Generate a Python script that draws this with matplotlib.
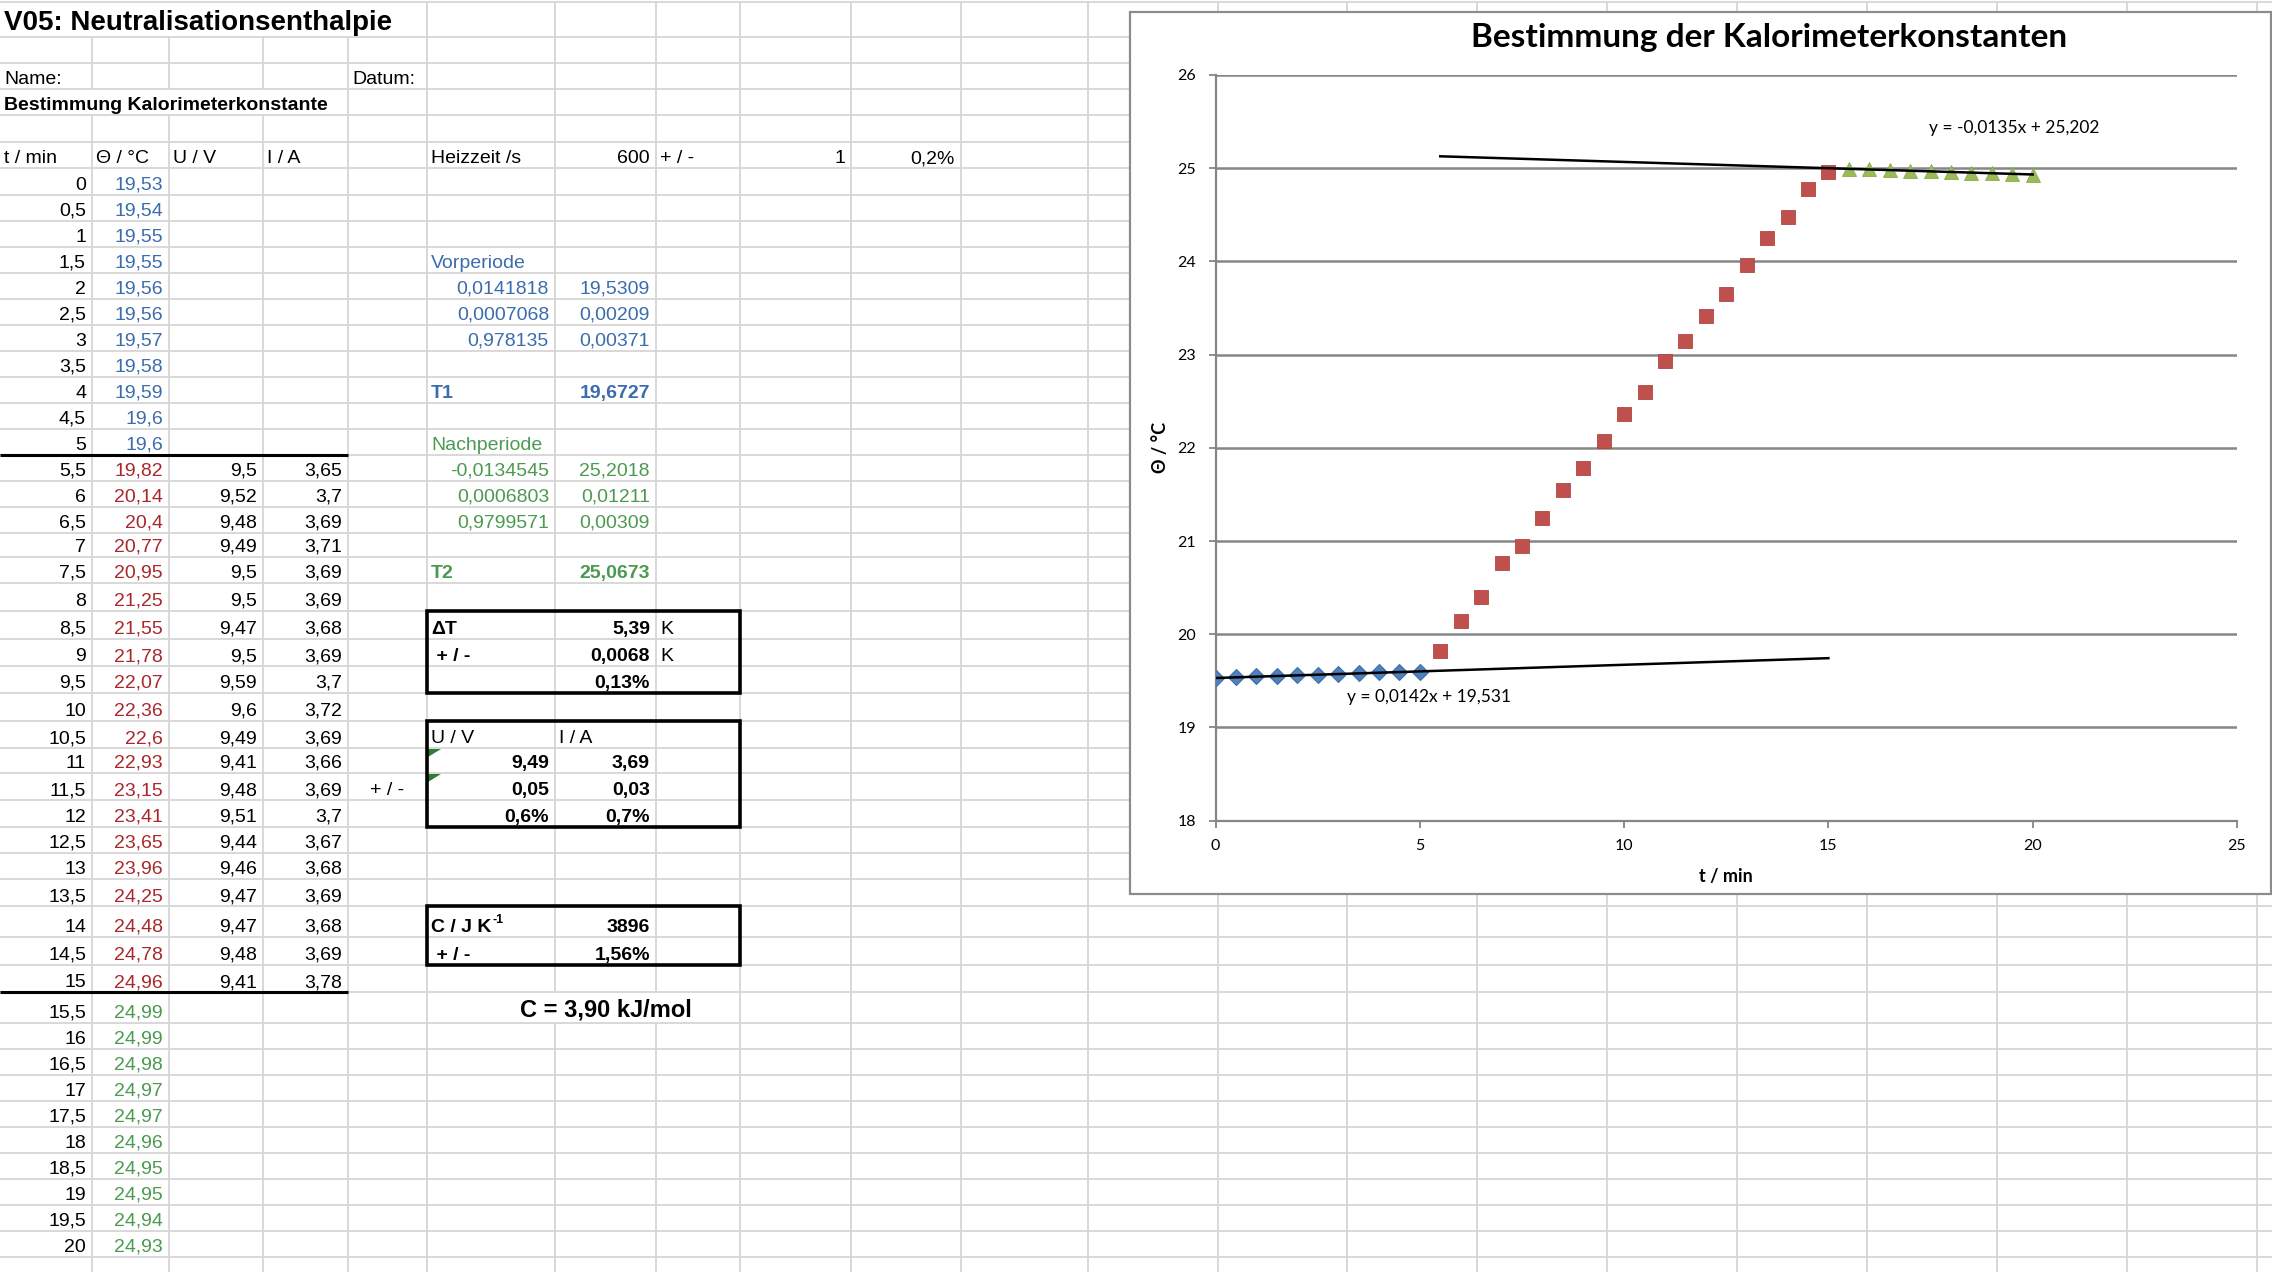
import numpy as np
import matplotlib.pyplot as plt
from matplotlib.patches import Rectangle, Polygon
from matplotlib.collections import LineCollection

plt.rcParams['font.family'] = ['Liberation Sans', 'DejaVu Sans']
CHART_FONT = ['Lato', 'DejaVu Sans']

# --- measured values -------------------------------------------------------
t_min = [0, 0.5, 1, 1.5, 2, 2.5, 3, 3.5, 4, 4.5, 5,
         5.5, 6, 6.5, 7, 7.5, 8, 8.5, 9, 9.5, 10,
         10.5, 11, 11.5, 12, 12.5, 13, 13.5, 14, 14.5, 15,
         15.5, 16, 16.5, 17, 17.5, 18, 18.5, 19, 19.5, 20]
theta = [19.53, 19.54, 19.55, 19.55, 19.56, 19.56, 19.57, 19.58, 19.59, 19.6, 19.6,
         19.82, 20.14, 20.4, 20.77, 20.95, 21.25, 21.55, 21.78, 22.07, 22.36,
         22.6, 22.93, 23.15, 23.41, 23.65, 23.96, 24.25, 24.48, 24.78, 24.96,
         24.99, 24.99, 24.98, 24.97, 24.97, 24.96, 24.95, 24.95, 24.94, 24.93]
# voltage / current during heating (t = 5.5 ... 15)
u_volt = [9.5, 9.52, 9.48, 9.49, 9.5, 9.5, 9.47, 9.5, 9.59, 9.6,
          9.49, 9.41, 9.48, 9.51, 9.44, 9.46, 9.47, 9.47, 9.48, 9.41]
i_amp = [3.65, 3.7, 3.69, 3.71, 3.69, 3.69, 3.68, 3.69, 3.7, 3.72,
         3.69, 3.66, 3.69, 3.7, 3.67, 3.68, 3.69, 3.68, 3.69, 3.78]
n_vor, n_nach = 11, 10
forecast = 10

# LINEST output as shown in the sheet
vor_stats = [("0,0141818", "19,5309"), ("0,0007068", "0,00209"), ("0,978135", "0,00371")]
nach_stats = [("-0,0134545", "25,2018"), ("0,0006803", "0,01211"), ("0,9799571", "0,00309")]
T1, T2 = "19,6727", "25,0673"
delta_T = [("ΔT", "5,39", "K"), (" + / -", "0,0068", "K"), ("", "0,13%", "")]
ui_mean = [("U / V", "I / A"), ("9,49", "3,69"), ("0,05", "0,03"), ("0,6%", "0,7%")]
cal_const = [("C / J K", "3896"), (" + / -", "1,56%")]
result = "C = 3,90 kJ/mol"

# --- sheet layout (pixels) -------------------------------------------------
W, H = 2272, 1272
row_edges = [2, 37, 63, 89, 115, 142, 168, 195, 221, 247, 273, 299, 325, 351, 377,
             403, 429, 455, 481, 507, 533, 557, 583, 611, 639, 666, 693, 721, 748,
             773, 800, 827, 853, 879, 906, 937, 965, 992, 1023, 1049, 1075, 1101,
             1127, 1153, 1179, 1205, 1231, 1257, 1283]
col_edges = [0, 92, 169, 263, 348, 427, 555, 656, 740, 851, 961, 1088, 1218,
             1347, 1477, 1607, 1737, 1867, 1997, 2127, 2257]
hidden = {(0, 1), (0, 2), (0, 3), (0, 4), (3, 1), (3, 2), (3, 3), (37, 6), (37, 7)}

blue_t, red_t, green_t = '#3b6cad', '#a8282c', '#4c9a50'
grid_c = '#d5d5d5'

fig = plt.figure(figsize=(W / 100, H / 100), dpi=100)
sheet = fig.add_axes([0, 0, 1, 1])
sheet.set_xlim(0, W)
sheet.set_ylim(H, 0)
sheet.axis('off')

segs = [[(0, y), (W, y)] for y in row_edges]
for ci in range(1, len(col_edges)):
    x = col_edges[ci]
    for r in range(len(row_edges) - 1):
        if (r, ci) not in hidden:
            segs.append([(x, row_edges[r]), (x, row_edges[r + 1])])
sheet.add_collection(LineCollection(segs, colors=grid_c, linewidths=1.3, zorder=1))


def de(v):
    return f"{v:g}".replace('.', ',')


def cell(r, c, s, ha='left', color='black', bold=False, size=14, dy=5):
    x0, x1 = col_edges[c], col_edges[c + 1]
    x = {'left': x0 + 4, 'right': x1 - 6, 'center': (x0 + x1) / 2}[ha]
    return sheet.text(x, row_edges[r + 1] - dy, s, ha=ha, va='baseline', color=color,
                      fontsize=size, fontweight='bold' if bold else 'normal', zorder=4)


cell(0, 0, "V05: Neutralisationsenthalpie", bold=True, size=20, dy=7)
cell(2, 0, "Name:")
cell(2, 4, "Datum:")
cell(3, 0, "Bestimmung Kalorimeterkonstante", bold=True)
for c, s in enumerate(["t / min", "Θ / °C", "U / V", "I / A"]):
    cell(5, c, s)
cell(5, 5, "Heizzeit /s")
cell(5, 6, "600", 'right')
cell(5, 7, "+ / -")
cell(5, 8, "1", 'right')
cell(5, 9, "0,2%", 'right')

first = 6
for i, (tv, th) in enumerate(zip(t_min, theta)):
    col = blue_t if i < n_vor else (green_t if i >= len(t_min) - n_nach else red_t)
    cell(first + i, 0, de(tv), 'right')
    cell(first + i, 1, de(th), 'right', color=col)
for j, (u, a) in enumerate(zip(u_volt, i_amp)):
    cell(first + n_vor + j, 2, de(u), 'right')
    cell(first + n_vor + j, 3, de(a), 'right')

cell(9, 5, "Vorperiode", color=blue_t)
for k, (a, b) in enumerate(vor_stats):
    cell(10 + k, 5, a, 'right', color=blue_t)
    cell(10 + k, 6, b, 'right', color=blue_t)
cell(14, 5, "T1", color=blue_t, bold=True)
cell(14, 6, T1, 'right', color=blue_t, bold=True)

cell(16, 5, "Nachperiode", color=green_t)
for k, (a, b) in enumerate(nach_stats):
    cell(17 + k, 5, a, 'right', color=green_t)
    cell(17 + k, 6, b, 'right', color=green_t)
cell(21, 5, "T2", color=green_t, bold=True)
cell(21, 6, T2, 'right', color=green_t, bold=True)

for k, (a, b, unit) in enumerate(delta_T):
    cell(23 + k, 5, a, bold=True)
    cell(23 + k, 6, b, 'right', bold=True)
    cell(23 + k, 7, unit)

cell(27, 5, ui_mean[0][0])
cell(27, 6, ui_mean[0][1])
for k, (a, b) in enumerate(ui_mean[1:]):
    cell(28 + k, 5, a, 'right', bold=True)
    cell(28 + k, 6, b, 'right', bold=True)
cell(29, 4, "+ / -", 'center')
for r in (28, 29):
    y0 = row_edges[r] + 1
    sheet.add_patch(Polygon([(428, y0), (441, y0), (428, y0 + 8)], closed=True,
                            color='#2f7d32', lw=0, zorder=3))

lab = cell(34, 5, cal_const[0][0], bold=True)
cell(34, 6, cal_const[0][1], 'right', bold=True)
cell(35, 5, cal_const[1][0], bold=True)
cell(35, 6, cal_const[1][1], 'right', bold=True)
renderer = fig.canvas.get_renderer()
bb = lab.get_window_extent(renderer).transformed(sheet.transData.inverted())
sheet.text(bb.x1 + 1, row_edges[34] + 8, "-1", fontsize=9, fontweight='bold',
           ha='left', va='top', zorder=4)

cell(37, 6, result, 'center', bold=True, size=17, dy=7)

for (x0, x1, y0, y1) in [(427, 740, 611, 693), (427, 740, 721, 827), (427, 740, 906, 965)]:
    sheet.add_patch(Rectangle((x0, y0), x1 - x0, y1 - y0, fill=False, ec='black',
                              lw=2.6, zorder=5))
for y in (455, 992):
    sheet.plot([0, 348], [y, y], color='black', lw=2.2, zorder=5, solid_capstyle='butt')

# --- embedded chart --------------------------------------------------------
sheet.add_patch(Rectangle((1130, 12), 1141, 882, fc='white', ec='#8c8c8c', lw=1.6, zorder=6))

px0, px1, py_top, py_bot = 1215.5, 2237, 75, 820.7
ax = fig.add_axes([px0 / W, 1 - py_bot / H, (px1 - px0) / W, (py_bot - py_top) / H])
ax.set_facecolor('none')
ax.set_zorder(10)

t = np.array(t_min)
th = np.array(theta)
heat = slice(n_vor, len(t) - n_nach)
ax.plot(t[:n_vor], th[:n_vor], 'D', ms=8.5, mfc='#4f81bd', mec='#3f6ea8', mew=0.8, zorder=3)
ax.plot(t[heat], th[heat], 's', ms=10.5, mfc='#c0504d', mec='#b04540', mew=0.6, zorder=3)
ax.plot(t[-n_nach:], th[-n_nach:], '^', ms=10.5, mfc='#9bbb59', mec='#8aab4a', mew=0.6, zorder=3)

vor = np.polyfit(t[:n_vor], th[:n_vor], 1)
nach = np.polyfit(t[-n_nach:], th[-n_nach:], 1)
xv = np.array([t[0], t[n_vor - 1] + forecast])
xn = np.array([t[-n_nach] - forecast, t[-1]])
ax.plot(xv, np.polyval(vor, xv), color='black', lw=1.8, zorder=4)
ax.plot(xn, np.polyval(nach, xn), color='black', lw=1.8, zorder=4)


def eq(p):
    return f"y = {p[0]:.4f}x + {p[1]:.3f}".replace('.', ',')


ax.text(19.54, 25.43, eq(nach), ha='center', va='center', fontsize=12.5,
        family=CHART_FONT, zorder=5)
ax.text(5.215, 19.33, eq(vor), ha='center', va='center', fontsize=12.5,
        family=CHART_FONT, zorder=5)

ax.set_xlim(0, 25)
ax.set_ylim(18, 26)
ax.set_xticks(range(0, 26, 5))
ax.set_yticks(range(18, 27))
ax.grid(axis='y', color='#868686', lw=1.8)
ax.set_axisbelow(True)
for side in ('top', 'right'):
    ax.spines[side].set_visible(False)
for side in ('left', 'bottom'):
    ax.spines[side].set_color('#868686')
    ax.spines[side].set_linewidth(1.6)
ax.tick_params(direction='out', length=5, width=1.3, color='#868686',
               labelsize=11.5, labelcolor='black')
ax.tick_params(axis='y', pad=9)
ax.tick_params(axis='x', pad=8)
for lbl in ax.get_xticklabels() + ax.get_yticklabels():
    lbl.set_family(CHART_FONT)

ax.set_xlabel("t / min", fontsize=13, fontweight='bold', family=CHART_FONT)
ax.set_ylabel("Θ / °C", fontsize=13, fontweight='bold', family=CHART_FONT)
ax.xaxis.set_label_coords(0.5, -0.063)
ax.yaxis.set_label_coords(-0.046, 0.5)

sheet.text(1769.5, 38, "Bestimmung der Kalorimeterkonstanten", ha='center', va='center',
           fontsize=24, fontweight='bold', family=CHART_FONT, zorder=7)

fig.savefig('out.png', dpi=100)
